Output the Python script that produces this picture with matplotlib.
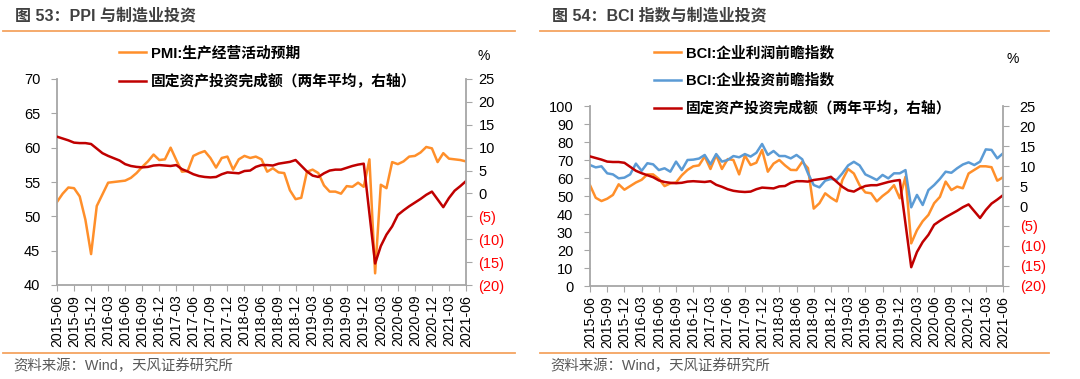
import matplotlib
matplotlib.use('Agg')
import matplotlib.pyplot as plt
import numpy as np
import pandas as pd

plt.rcParams['font.family'] = ['Liberation Sans', 'Noto Sans CJK SC']

# monthly, 2015-06 .. 2021-06
months = pd.period_range('2015-06', '2021-06', freq='M').strftime('%Y-%m').tolist()

pmi_expect = [52.1, 53.3, 54.2, 54.1, 52.9, 49.5, 44.5, 51.5, 53.2, 54.9,
              55.0, 55.1, 55.2, 55.6, 56.3, 57.2, 58.0, 59.0, 58.2, 58.3,
              60.0, 58.2, 56.5, 56.6, 58.8, 59.2, 59.5, 58.5, 57.1, 58.5,
              58.7, 56.8, 58.3, 58.8, 58.5, 58.7, 58.3, 56.5, 57.0, 56.4,
              56.3, 53.8, 52.5, 52.7, 56.5, 56.8, 56.3, 54.5, 53.6, 53.6,
              53.3, 54.4, 54.3, 54.9, 54.3, 58.3, 41.7, 54.6, 54.1, 57.9,
              57.6, 58.0, 58.7, 58.8, 59.3, 60.1, 59.9, 57.9, 59.2, 58.4,
              58.3, 58.2, 58.0]

bci_profit = [56.0, 49.0, 47.2, 48.5, 50.6, 56.5, 53.5, 55.5, 57.5, 59.0,
              62.0, 62.0, 59.5, 55.5, 57.0, 57.5, 61.5, 64.5, 66.5, 67.0,
              72.0, 65.0, 72.8, 65.0, 70.5, 70.0, 62.0, 72.5, 67.2, 68.5,
              75.6, 63.5, 68.0, 70.0, 67.0, 64.5, 64.4, 69.0, 65.5, 43.0,
              46.0, 51.5, 49.0, 47.0, 58.9, 65.0, 62.5, 56.0, 52.0, 51.5,
              47.0, 50.0, 52.4, 56.0, 48.7, 60.7, 23.7, 31.0, 36.0, 39.5,
              46.0, 49.5, 58.0, 53.3, 55.2, 54.3, 62.5, 64.5, 66.5, 66.5,
              66.0, 58.5, 60.4]

bci_invest = [67.2, 65.9, 66.5, 62.6, 62.0, 59.8, 60.2, 62.0, 68.0, 64.0,
              68.2, 67.6, 64.4, 65.4, 63.5, 69.1, 64.4, 70.0, 70.2, 70.8,
              72.8, 67.6, 73.3, 69.1, 70.0, 72.2, 71.5, 73.3, 71.9, 74.0,
              78.9, 72.8, 75.0, 72.2, 72.2, 70.9, 72.8, 70.4, 62.6, 56.1,
              54.8, 58.5, 59.5, 58.9, 62.6, 67.0, 69.0, 67.0, 62.0, 60.5,
              58.9, 61.7, 59.8, 62.6, 62.6, 64.4, 43.7, 50.6, 45.0, 53.3,
              56.1, 59.5, 63.5, 62.9, 65.4, 67.5, 68.7, 67.2, 69.1, 75.9,
              75.6, 70.9, 73.7]

# no January prints (Jan-Feb reported together)
fai_2y = [12.4, 12.0, 11.6, 11.1, 11.0, 11.0, 10.8, None, 8.8, 8.2,
          7.7, 7.2, 6.4, 6.0, 5.8, 5.7, 5.8, 6.1, 6.2, None,
          6.0, 6.2, 5.3, 4.8, 4.2, 3.8, 3.6, 3.5, 3.6, 4.2,
          4.6, None, 4.4, 4.9, 5.0, 5.8, 6.2, 6.2, 6.1, 6.5,
          6.7, 6.9, 7.3, None, 4.8, 3.9, 3.6, 4.4, 5.0, 5.2,
          5.2, 5.6, 6.0, 6.3, 6.5, None, -15.3, -11.5, -9.0, -7.2,
          -4.7, -3.7, -2.8, -2.0, -1.2, -0.3, 0.4, None, -3.0, -1.0,
          0.6, 1.6, 2.7]

ORANGE = '#FF8F2A'
BLUE = '#5B9BD5'
RED = '#C00000'
GRAY = '#A6A6A6'
LINE = '#F4A460'

W, H = 1080, 379
fig = plt.figure(figsize=(W / 100, H / 100), dpi=100)


def box(x0, y0, x1, y1):
    return [x0 / W, 1 - y1 / H, (x1 - x0) / W, (y1 - y0) / H]


def right_fmt(v, pos):
    v = int(round(v))
    return f'({-v})' if v < 0 else f'{v}'


def style(ax, ax2, lpad, rpad):
    for a in (ax, ax2):
        a.spines['top'].set_visible(False)
        for s in ('left', 'right', 'bottom'):
            a.spines[s].set_color(GRAY)
            a.spines[s].set_linewidth(1.3)
    ax.spines['right'].set_visible(False)
    ax2.spines['left'].set_visible(False)
    ax2.spines['bottom'].set_visible(False)
    ax.set_xlim(0, len(months) - 1)
    ax.set_xticks(range(0, len(months), 3))
    ax.set_xticklabels(months[::3], rotation=90)
    ax.tick_params(axis='x', direction='out', length=4, color=GRAY,
                   labelsize=10.2, pad=3)
    ax.tick_params(axis='y', direction='out', length=4, color=GRAY,
                   labelsize=10.5, pad=lpad)
    ax2.set_ylim(-20, 25)
    ax2.set_yticks(range(-20, 26, 5))
    ax2.yaxis.set_major_formatter(plt.FuncFormatter(right_fmt))
    ax2.tick_params(axis='y', direction='out', length=4, color=GRAY,
                    labelsize=10.5, pad=rpad)
    for t, v in zip(ax2.get_yticklabels(), range(-20, 26, 5)):
        if v < 0:
            t.set_color('#FF0000')


def legend(handles, labels, x0):
    fig.legend(handles, labels, loc='upper left',
               bbox_to_anchor=(x0 / W, 1 - 46 / H),
               frameon=False, prop={'size': 10.6, 'weight': 'bold'},
               handlelength=1.8, handletextpad=0.4, labelspacing=0.9,
               borderpad=0, borderaxespad=0)


x = np.arange(len(months))
fai = np.array([np.nan if v is None else v for v in fai_2y])
ok = ~np.isnan(fai)

# ---- left: PMI expectations vs FAI
ax = fig.add_axes(box(57, 79, 466, 285))
ax2 = ax.twinx()
l1, = ax.plot(x, pmi_expect, color=ORANGE, lw=1.8)
l2, = ax2.plot(x[ok], fai[ok], color=RED, lw=1.8)
ax.set_ylim(40, 70)
ax.set_yticks(range(40, 71, 5))
style(ax, ax2, 8, 5)
legend([l1, l2], ['PMI:生产经营活动预期', '固定资产投资完成额（两年平均，右轴）'], 119)
fig.text(484 / W, 1 - 56 / H, '%', ha='center', va='center', fontsize=10)

# ---- right: BCI vs FAI
bx = fig.add_axes(box(590, 106, 1003, 286))
bx2 = bx.twinx()
m1, = bx.plot(x, bci_profit, color=ORANGE, lw=1.8)
m2, = bx.plot(x, bci_invest, color=BLUE, lw=1.8)
m3, = bx2.plot(x[ok], fai[ok], color=RED, lw=1.8)
bx.set_ylim(0, 100)
bx.set_yticks(range(0, 101, 10))
style(bx, bx2, 8, 8)
legend([m1, m2, m3], ['BCI:企业利润前瞻指数', 'BCI:企业投资前瞻指数',
                      '固定资产投资完成额（两年平均，右轴）'], 654)
fig.text(1013 / W, 1 - 59 / H, '%', ha='center', va='center', fontsize=10)

# ---- titles, rules, source notes
for x0, x1, title in [(3, 515, '图 53：PPI 与制造业投资'),
                      (540, 1049, '图 54：BCI 指数与制造业投资')]:
    fig.text((x0 + 12) / W, 1 - 16 / H, title, ha='left', va='center',
             fontsize=11.5, weight='bold', color='#404040')
    fig.add_artist(plt.Line2D([x0 / W, x1 / W], [1 - 30.5 / H] * 2,
                              color=LINE, lw=1.3))
    fig.add_artist(plt.Line2D([x0 / W, x1 / W], [1 - 353 / H] * 2,
                              color=LINE, lw=1.3))
    fig.text((x0 + 10) / W, 1 - 366 / H, '资料来源：Wind，天风证券研究所',
             ha='left', va='center', fontsize=10.4, color='#595959')

fig.savefig('out.png', dpi=100)
